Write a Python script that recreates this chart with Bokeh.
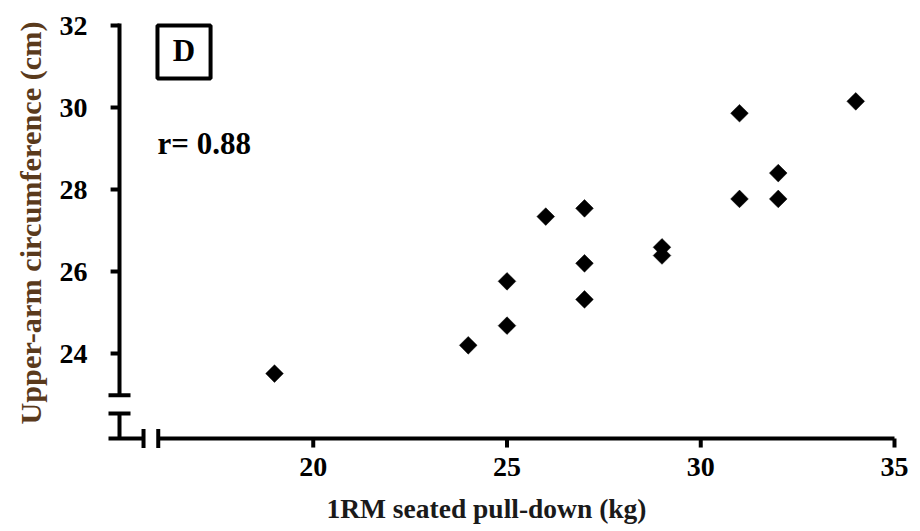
from bokeh.plotting import figure
from bokeh.models import Range1d, FixedTicker
from bokeh.core.properties import value
from bokeh.embed import file_html
from bokeh.resources import INLINE
import math

# ---- data ----
pulldown_kg = [19, 24, 25, 25, 26, 27, 27, 27, 29, 29, 31, 31, 32, 32, 34]
arm_cm = [23.51, 24.2, 25.76, 24.68, 27.34, 27.54, 26.2, 25.32, 26.59, 26.39,
          29.86, 27.77, 28.4, 27.77, 30.15]
x_ticks = [20, 25, 30, 35]
y_ticks = [24, 26, 28, 30, 32]
x_label = "1RM seated pull-down (kg)"
y_label = "Upper-arm circumference (cm)"
r_text = "r= 0.88"
panel_letter = "D"

FONT = "Liberation Serif"

# the frame covers the whole canvas; axes are placed at fixed data locations
p = figure(width=920, height=531, output_backend="svg", toolbar_location=None,
           x_range=Range1d(11.929, 35.671), y_range=Range1d(19.659, 32.610),
           min_border_left=0, min_border_right=0, min_border_top=0,
           min_border_bottom=0)
p.grid.visible = False
p.outline_line_color = None
p.background_fill_color = "white"
p.border_fill_color = "white"

X0 = 15.0          # y-axis position
Y0 = 21.927        # x-axis position

for ax in (p.xaxis[0], p.yaxis[0]):
    ax.axis_line_color = None
    ax.major_tick_line_color = None
    ax.minor_tick_line_color = None
    ax.major_tick_out = 0
    ax.major_tick_in = 0
    ax.major_label_text_font = FONT
    ax.major_label_text_font_style = "bold"
    ax.major_label_text_font_size = "28px"
    ax.major_label_text_color = "black"

p.xaxis.ticker = FixedTicker(ticks=x_ticks)
p.yaxis.ticker = FixedTicker(ticks=y_ticks)
p.xaxis.fixed_location = Y0
p.yaxis.fixed_location = X0
p.xaxis.major_label_standoff = 19
p.yaxis.major_label_standoff = 32

# broken axis lines (data coordinates)
y_top = y_ticks[-1]
y_break_hi = 22.98
y_break_lo = 22.537
x_break_lo = 15.62
x_break_hi = 16.0
cap_dx = 0.284
cap_dy = 0.23
tick_dx = 0.23
tick_dy = 0.22

x0s, y0s, x1s, y1s = [], [], [], []
def seg(a, b, c, d):
    x0s.append(a); y0s.append(b); x1s.append(c); y1s.append(d)

seg(X0, y_top + 0.05, X0, y_break_hi)               # upper y segment
seg(X0 - cap_dx, y_break_hi, X0 + cap_dx, y_break_hi)
seg(X0, y_break_lo, X0, Y0)                         # lower y segment
seg(X0 - cap_dx, y_break_lo, X0 + cap_dx, y_break_lo)
seg(X0 - cap_dx, Y0, x_break_lo, Y0)                # left x piece
seg(x_break_lo, Y0 - cap_dy, x_break_lo, Y0 + cap_dy)
seg(x_break_hi, Y0, x_ticks[-1], Y0)                # right x piece
seg(x_break_hi, Y0 - cap_dy, x_break_hi, Y0 + cap_dy)
for t in y_ticks:
    seg(X0 - tick_dx, t, X0, t)
for t in x_ticks:
    seg(t, Y0, t, Y0 - tick_dy)

p.segment(x0=x0s, y0=y0s, x1=x1s, y1=y1s, line_color="black", line_width=4,
          line_cap="butt")

# data points (rotated squares = diamonds)
p.scatter(pulldown_kg, arm_cm, marker="square", size=12.5, angle=math.pi / 4,
          fill_color="black", line_color="black", line_width=0.5)

# axis titles
p.text(x=[24.47], y=[20.22], text=[x_label], text_font=value(FONT),
       text_font_style="bold", text_font_size="27.5px", text_align="center",
       text_baseline="middle", text_color="#1a1a1a")
p.text(x=[12.729], y=[27.183], text=[y_label], angle=math.pi / 2,
       text_font=value(FONT), text_font_style="bold", text_font_size="30.3px",
       text_align="center", text_baseline="middle", text_color="#5a3a1c")

# panel letter box
p.quad(left=[15.98], right=[17.35], top=[32.0], bottom=[30.71],
       fill_color=None, line_color="black", line_width=4)
p.text(x=[16.665], y=[31.38], text=[panel_letter], text_font=value(FONT),
       text_font_style="bold", text_font_size="31px", text_align="center",
       text_baseline="middle", text_color="black")

# correlation coefficient
p.text(x=[15.98], y=[29.12], text=[r_text], text_font=value(FONT),
       text_font_style="bold", text_font_size="31px", text_align="left",
       text_baseline="middle", text_color="black")

open("out.html", "w").write(file_html(p, INLINE))
